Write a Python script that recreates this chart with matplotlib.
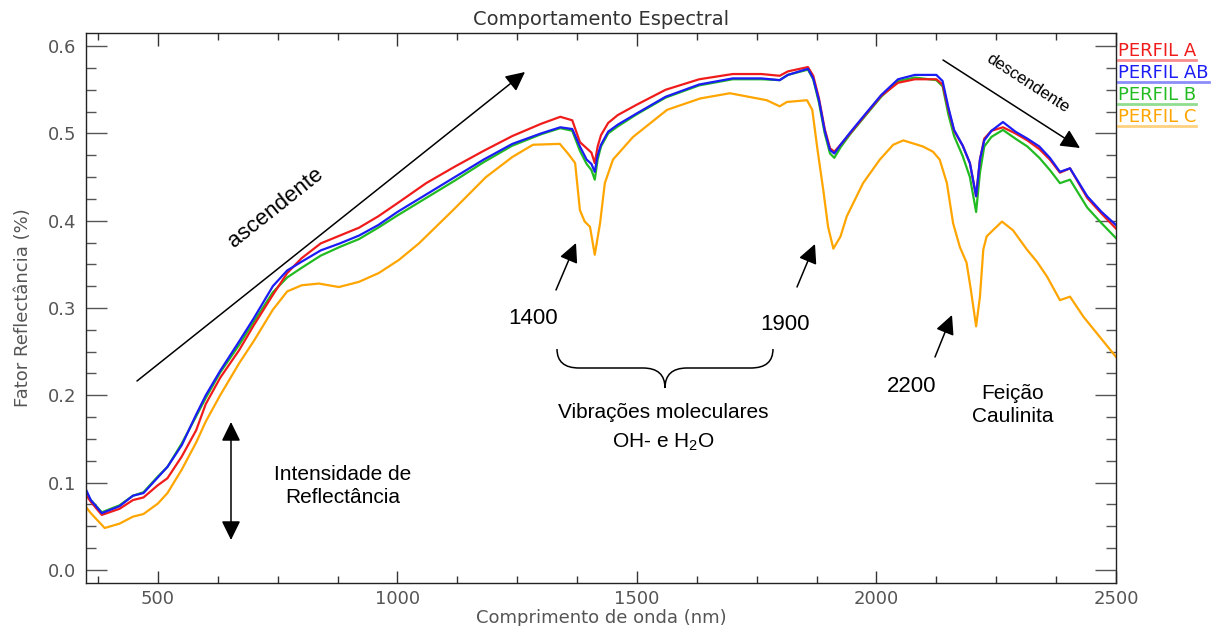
import numpy as np
import matplotlib
matplotlib.use('Agg')
import matplotlib.pyplot as plt
from matplotlib.path import Path
from matplotlib.patches import PathPatch
from matplotlib.ticker import MultipleLocator

plt.rcParams['mathtext.fontset'] = 'custom'
plt.rcParams['mathtext.rm'] = 'Liberation Sans'

# wavelengths (nm) shared by perfis A, AB, B
wl = [350, 360, 383, 420, 448, 470, 500, 520, 550, 580, 600, 630, 670, 700, 740,
      770, 800, 840, 880, 920, 960, 1000, 1060, 1120, 1180, 1240, 1300, 1340, 1365,
      1381, 1395, 1405, 1412, 1418, 1425, 1440, 1460, 1500, 1560, 1630, 1700, 1760,
      1798, 1815, 1857, 1868, 1880, 1892, 1903, 1912, 1925, 1945, 1975, 2010, 2045,
      2080, 2125, 2138, 2150, 2162, 2180, 2195, 2208, 2216, 2225, 2240, 2264, 2290,
      2315, 2340, 2362, 2383, 2404, 2440, 2470, 2500]

perfil_a = [0.086, 0.078, 0.063, 0.070, 0.080, 0.083, 0.097, 0.105, 0.130, 0.160,
            0.190, 0.220, 0.252, 0.280, 0.315, 0.340, 0.357, 0.374, 0.383, 0.392,
            0.405, 0.420, 0.443, 0.462, 0.480, 0.497, 0.511, 0.519, 0.515, 0.490,
            0.483, 0.478, 0.466, 0.485, 0.498, 0.512, 0.521, 0.533, 0.550, 0.562,
            0.568, 0.568, 0.566, 0.571, 0.576, 0.566, 0.540, 0.505, 0.483, 0.479,
            0.487, 0.500, 0.520, 0.543, 0.558, 0.562, 0.562, 0.556, 0.528, 0.503,
            0.486, 0.466, 0.428, 0.470, 0.494, 0.503, 0.507, 0.500, 0.492, 0.482,
            0.470, 0.455, 0.460, 0.426, 0.408, 0.391]

perfil_ab = [0.092, 0.080, 0.065, 0.073, 0.085, 0.088, 0.106, 0.118, 0.143, 0.178,
             0.200, 0.228, 0.262, 0.288, 0.325, 0.343, 0.353, 0.366, 0.374, 0.383,
             0.395, 0.410, 0.430, 0.450, 0.470, 0.488, 0.500, 0.507, 0.505, 0.485,
             0.470, 0.465, 0.456, 0.475, 0.487, 0.502, 0.510, 0.523, 0.542, 0.556,
             0.563, 0.563, 0.561, 0.567, 0.574, 0.563, 0.538, 0.503, 0.481, 0.477,
             0.487, 0.501, 0.521, 0.544, 0.562, 0.567, 0.567, 0.560, 0.530, 0.504,
             0.486, 0.466, 0.428, 0.470, 0.492, 0.503, 0.513, 0.502, 0.494, 0.485,
             0.472, 0.456, 0.460, 0.428, 0.410, 0.395]

perfil_b = [0.088, 0.080, 0.066, 0.074, 0.085, 0.089, 0.107, 0.118, 0.145, 0.176,
            0.197, 0.226, 0.258, 0.284, 0.318, 0.335, 0.346, 0.360, 0.370, 0.379,
            0.392, 0.406, 0.426, 0.446, 0.467, 0.486, 0.499, 0.506, 0.503, 0.480,
            0.465, 0.458, 0.447, 0.470, 0.485, 0.500, 0.508, 0.522, 0.541, 0.555,
            0.562, 0.562, 0.561, 0.567, 0.573, 0.562, 0.535, 0.500, 0.477, 0.472,
            0.484, 0.499, 0.519, 0.542, 0.560, 0.564, 0.561, 0.554, 0.522, 0.497,
            0.474, 0.450, 0.410, 0.455, 0.485, 0.496, 0.504, 0.494, 0.485, 0.472,
            0.458, 0.443, 0.447, 0.415, 0.397, 0.380]

# perfil C has its own sampling
wl_c = [350, 360, 389, 420, 448, 470, 500, 520, 550, 580, 600, 630, 670, 700, 740,
        770, 800, 836, 878, 920, 961, 1003, 1045, 1116, 1185, 1240, 1283, 1339, 1356,
        1371, 1381, 1391, 1402, 1412, 1423, 1433, 1450, 1492, 1563, 1632, 1694, 1771,
        1798, 1813, 1855, 1866, 1877, 1889, 1899, 1910, 1925, 1938, 1972, 2007, 2035,
        2056, 2097, 2118, 2132, 2147, 2160, 2174, 2188, 2197, 2208, 2216, 2223, 2230,
        2243, 2262, 2285, 2314, 2335, 2356, 2383, 2404, 2432, 2466, 2500]
perfil_c = [0.072, 0.065, 0.048, 0.053, 0.061, 0.064, 0.076, 0.088, 0.115, 0.146,
            0.170, 0.200, 0.237, 0.262, 0.298, 0.319, 0.326, 0.328, 0.324, 0.330,
            0.340, 0.355, 0.374, 0.412, 0.450, 0.473, 0.487, 0.488, 0.477, 0.466,
            0.412, 0.399, 0.393, 0.361, 0.397, 0.443, 0.470, 0.496, 0.527, 0.540,
            0.546, 0.538, 0.531, 0.536, 0.538, 0.527, 0.481, 0.435, 0.393, 0.368,
            0.382, 0.405, 0.443, 0.470, 0.487, 0.492, 0.485, 0.479, 0.470, 0.443,
            0.397, 0.370, 0.352, 0.321, 0.279, 0.313, 0.367, 0.382, 0.389, 0.399,
            0.389, 0.367, 0.353, 0.336, 0.309, 0.313, 0.290, 0.267, 0.244]

labels = ['PERFIL A', 'PERFIL AB', 'PERFIL B', 'PERFIL C']
colors = ['#f01c1c', '#1c1cf5', '#22bb22', '#ffa500']

W, H = 1215, 626


def fp(px, py):
    # figure pixel (from top-left) -> figure fraction
    return (px / W, 1 - py / H)


fig = plt.figure(figsize=(12.15, 6.26), dpi=100)
ax = fig.add_axes([86 / W, 1 - 583 / H, (1116 - 86) / W, (583 - 33) / H])

# draw C first so the others lie on top
ax.plot(wl_c, perfil_c, color=colors[3], lw=1.6)
ax.plot(wl, perfil_b, color=colors[2], lw=1.6)
ax.plot(wl, perfil_a, color=colors[0], lw=1.6)
ax.plot(wl, perfil_ab, color=colors[1], lw=1.6)

ax.set_xlim(350, 2500)
ax.set_ylim(-0.015, 0.615)
ax.xaxis.set_major_locator(MultipleLocator(500))
ax.xaxis.set_minor_locator(MultipleLocator(125))
ax.yaxis.set_major_locator(MultipleLocator(0.1))
ax.yaxis.set_minor_locator(MultipleLocator(0.025))
ax.yaxis.set_major_formatter(plt.FuncFormatter(lambda v, p: '%.1f' % v))

ax.tick_params(axis='x', which='major', direction='in', length=9, width=1,
               top=True, color='#333', labelsize=13, labelcolor='#555', pad=5)
ax.tick_params(axis='x', which='minor', direction='in', length=5, width=1,
               top=True, color='#333')
ax.tick_params(axis='y', which='major', direction='in', length=15, width=1,
               right=True, color='#555', labelsize=13, labelcolor='#555', pad=7)
ax.tick_params(axis='y', which='minor', direction='in', length=7, width=1,
               right=True, color='#555')
for s in ax.spines.values():
    s.set_color('#222')
    s.set_linewidth(1)

ax.set_title('Comportamento Espectral', fontsize=14, color='#333', pad=6)
ax.set_xlabel('Comprimento de onda (nm)', fontsize=13, color='#555', labelpad=1)
ax.set_ylabel('Fator Reflectância (%)', fontsize=13, color='#555', labelpad=11)

# legend at right, outside the axes
for i, (lab, c) in enumerate(zip(labels, colors)):
    y0 = 51 + i * 22
    t = fig.text(*fp(1118, y0), lab, color=c, fontsize=13, va='center', ha='left')
    fig.canvas.draw()
    bb = t.get_window_extent()
    x1 = bb.x1 / W
    fig.add_artist(plt.Line2D([1118 / W, x1], [1 - (y0 + 9) / H] * 2, color=c,
                              lw=2, alpha=0.5, transform=fig.transFigure))

ann_font = dict(family='Liberation Sans', color='black')
arrow = dict(arrowstyle='-|>,head_length=0.65,head_width=0.32', color='black',
             lw=1.1, mutation_scale=18, shrinkA=0, shrinkB=0)

# ascendente
ax.annotate('', xy=fp(525, 72), xytext=fp(137, 381), xycoords='figure fraction',
            textcoords='figure fraction', arrowprops=arrow)
fig.text(*fp(276, 208), 'ascendente', fontsize=16, rotation=38.5,
         ha='center', va='center', **ann_font)

# descendente
ax.annotate('', xy=fp(1080, 148), xytext=fp(943, 60), xycoords='figure fraction',
            textcoords='figure fraction', arrowprops=arrow)
fig.text(*fp(1028, 83), 'descendente', fontsize=12, rotation=-33,
         ha='center', va='center', **ann_font)

# intensidade
ax.annotate('', xy=fp(231, 540), xytext=fp(231, 422), xycoords='figure fraction',
            textcoords='figure fraction',
            arrowprops=dict(arrow, arrowstyle='<|-|>,head_length=0.65,head_width=0.32'))
fig.text(*fp(343, 486), 'Intensidade de\nReflectância', fontsize=15,
         ha='center', va='center', linespacing=1.3, **ann_font)

# absorption features
for txt, tail, tip, pos in [('1400', (556, 290), (576, 243), (533, 318)),
                            ('1900', (797, 287), (815, 244), (785, 325)),
                            ('2200', (935, 357), (952, 315), (912, 387))]:
    ax.annotate('', xy=fp(*tip), xytext=fp(*tail), xycoords='figure fraction',
                textcoords='figure fraction', arrowprops=arrow)
    fig.text(*fp(*pos), txt, fontsize=16, ha='center', va='center', **ann_font)

# brace
bx0, bx1, bxm = 557, 773, 665
by0, bym, byt = 349, 368, 388
verts = [(bx0, by0), (bx0, bym), (bx0 + 22, bym),
         (bxm - 22, bym), (bxm, bym), (bxm, byt),
         (bxm, bym), (bxm + 22, bym),
         (bx1 - 22, bym), (bx1, bym), (bx1, by0)]
codes = [Path.MOVETO, Path.CURVE3, Path.CURVE3,
         Path.LINETO, Path.CURVE3, Path.CURVE3,
         Path.CURVE3, Path.CURVE3,
         Path.LINETO, Path.CURVE3, Path.CURVE3]
verts = [fp(x, y) for x, y in verts]
fig.add_artist(PathPatch(Path(verts, codes), fill=False, lw=1.1, color='black',
                         transform=fig.transFigure))

fig.text(*fp(663, 413), 'Vibrações moleculares', fontsize=15,
         ha='center', va='center', **ann_font)
fig.text(*fp(663, 442), 'OH- e H$_2$O', fontsize=15,
         ha='center', va='center', **ann_font)
fig.text(*fp(1013, 405), 'Feição\nCaulinita', fontsize=15,
         ha='center', va='center', linespacing=1.3, **ann_font)

fig.savefig('out.png', dpi=100)
